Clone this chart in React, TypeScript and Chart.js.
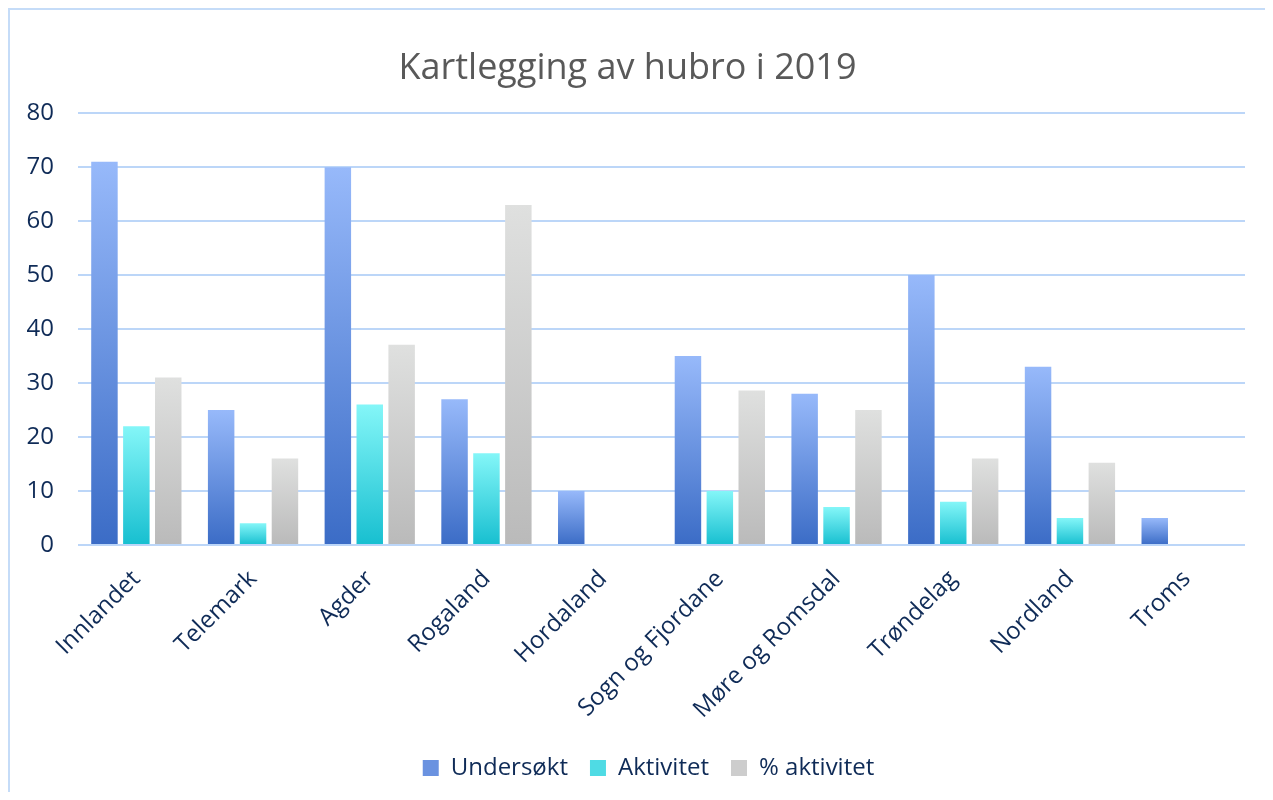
import { useEffect, useRef } from "react";
import { Chart, registerables } from "chart.js";

Chart.register(...registerables);

const categories = [
  "Innlandet",
  "Telemark",
  "Agder",
  "Rogaland",
  "Hordaland",
  "Sogn og Fjordane",
  "Møre og Romsdal",
  "Trøndelag",
  "Nordland",
  "Troms",
];
const undersokt = [71, 25, 70, 27, 10, 35, 28, 50, 33, 5];
const aktivitet = [22, 4, 26, 17, 0, 10, 7, 8, 5, 0];
const prosentAktivitet = [31, 16, 37.1, 63, 0, 28.6, 25, 16, 15.2, 0];
const seriesNames = ["Undersøkt", "Aktivitet", "% aktivitet"];
const yMin = 0;
const yMax = 80;
const yStep = 10;
const titleText = "Kartlegging av hubro i 2019";

const gradTop = ["#97b9fa", "#84f6f8", "#dfe0df"];
const gradBottom = ["#3b6cc6", "#17bfd0", "#bababa"];
const legendMid = ["#6a92e0", "#4fdbe4", "#cdcdcd"];

const FONT = "'Open Sans', 'Noto Sans', sans-serif";
const NAVY = "#0f2b57";
const LEGEND_SHIFT = 21;

function barGradient(i: number) {
  return (ctx: any) => {
    const chart = ctx.chart;
    const y = chart.scales && chart.scales.y;
    if (ctx.type !== "data" || !y) return legendMid[i];
    const v = ctx.raw as number;
    const yTop = y.getPixelForValue(v);
    const yBot = y.getPixelForValue(0);
    if (!isFinite(yTop) || !isFinite(yBot) || yBot - yTop < 1) return gradBottom[i];
    const g = chart.ctx.createLinearGradient(0, yTop, 0, yBot);
    g.addColorStop(0, gradTop[i]);
    g.addColorStop(1, gradBottom[i]);
    return g;
  };
}

const legendPlugin = {
  id: "legendTweaks",
  afterUpdate(chart: any) {
    const legend = chart.legend;
    if (!legend) return;
    legend.left += LEGEND_SHIFT;
    legend.right += LEGEND_SHIFT;
    if (legend.adjustHitBoxes) legend.adjustHitBoxes();
  },
  afterDraw(chart: any) {
    const legend = chart.legend;
    if (!legend || !legend.legendHitBoxes) return;
    const opts = legend.options.labels;
    const bw = opts.boxWidth;
    const bh = opts.boxHeight;
    const fs = opts.font.size;
    const c = chart.ctx;
    legend.legendHitBoxes.forEach((hb: any, i: number) => {
      const x = hb.left;
      const y = hb.top + Math.max((fs - bh) / 2, 0);
      const g = c.createLinearGradient(0, y, 0, y + bh);
      g.addColorStop(0, gradTop[i]);
      g.addColorStop(1, gradBottom[i]);
      c.save();
      c.fillStyle = g;
      c.fillRect(x, y, bw, bh);
      c.restore();
    });
  },
};

export default function App() {
  const ref = useRef<HTMLCanvasElement | null>(null);

  useEffect(() => {
    document.body.style.overflow = "hidden";
    if (!ref.current) return;
    const datasets = [undersokt, aktivitet, prosentAktivitet].map((d, i) => ({
      label: seriesNames[i],
      data: d,
      backgroundColor: barGradient(i),
      borderWidth: 0,
      categoryPercentage: 0.82,
      barPercentage: 0.83,
    }));
    const chart = new Chart(ref.current, {
      type: "bar",
      data: { labels: categories, datasets },
      plugins: [legendPlugin],
      options: {
        responsive: true,
        maintainAspectRatio: false,
        animation: false,
        layout: { padding: { left: 0, right: 20, top: 0, bottom: 2 } },
        plugins: {
          title: {
            display: true,
            text: titleText,
            color: "#595959",
            font: { family: FONT, size: 36, weight: "normal" },
            padding: { top: 37, bottom: 23 },
          },
          legend: {
            position: "bottom",
            labels: {
              color: NAVY,
              font: { family: FONT, size: 24 },
              boxWidth: 16,
              boxHeight: 16,
              padding: 22,
              generateLabels: (chart: any) =>
                (Chart.defaults.plugins.legend.labels as any)
                  .generateLabels(chart)
                  .map((l: any, i: number) => ({
                    ...l,
                    fillStyle: legendMid[i],
                    strokeStyle: "rgba(0,0,0,0)",
                    lineWidth: 0,
                  })),
            },
          },
          tooltip: { enabled: false },
        },
        scales: {
          x: {
            grid: { display: false },
            border: { display: false },
            ticks: {
              color: NAVY,
              font: { family: FONT, size: 24 },
              minRotation: 45,
              maxRotation: 45,
              autoSkip: false,
              padding: 12,
            },
            afterFit: (scale: any) => {
              scale.height -= 2;
            },
          },
          y: {
            min: yMin,
            max: yMax,
            grid: { color: "#bcd6f8", lineWidth: 2, drawTicks: false },
            border: { display: false },
            ticks: {
              stepSize: yStep,
              color: NAVY,
              font: { family: FONT, size: 24 },
              padding: 24,
            },
            afterFit: (scale: any) => {
              scale.width = 68;
            },
          },
        },
      },
    });
    return () => chart.destroy();
  }, []);

  return (
    <div
      style={{
        borderTop: "2px solid #c5dcf8",
        borderLeft: "2px solid #c5dcf8",
        width: 1255,
        height: 782,
        position: "relative",
      }}
    >
      <canvas ref={ref} />
    </div>
  );
}
